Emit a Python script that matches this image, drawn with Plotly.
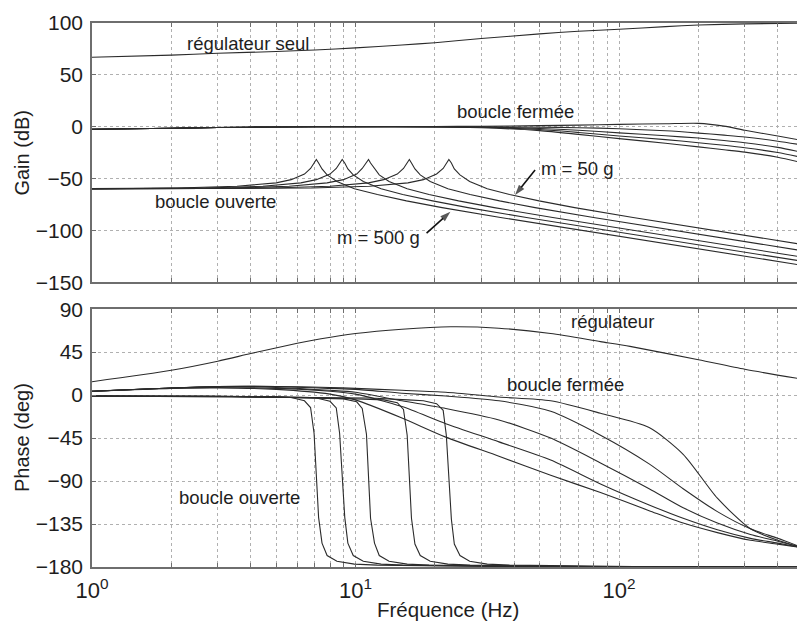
import numpy as np
import plotly.graph_objects as go

# ---------------- data ----------------
# controller alone
REG_F = [1, 2, 3, 5, 7, 10, 15, 20, 30, 50, 70, 100, 150, 200, 300, 500]
REG_GAIN = [66.9, 69.0, 70.8, 72.5, 74.0, 76.0, 78.8, 81.0, 85.0, 89.5, 92.0, 94.0, 96.5, 98.0, 99.2, 99.8]
REG_PF = [1, 2, 3, 4, 5.5, 7.4, 10, 15, 23, 35, 55, 85, 110, 200, 300, 500]
REG_PHASE = [14, 26, 35.5, 43.5, 52, 59, 64.5, 69, 71.5, 70, 64.5, 56, 51, 37, 27, 16.5]

# closed loop, five masses (50 g ... 500 g)
CL_F = [1, 2, 3, 5, 10, 20, 30, 50, 70, 100, 150, 200, 250, 300, 400, 500]
CL_GAIN_1 = [-2.5, -1.5, -0.8, -0.3, 0, 0.2, 0.4, 1.0, 1.5, 2.2, 2.8, 3.2, 0.5, -3.5, -9.0, -13.5]
CL_GAIN_2 = [-2.5, -1.5, -0.8, -0.3, 0, 0, -0.1, -0.5, -1.0, -2.0, -4.0, -6.2, -8.2, -10.0, -14.0, -17.8]
CL_GAIN_3 = [-2.5, -1.5, -0.8, -0.3, 0, -0.1, -0.3, -1.7, -3.4, -6.0, -8.8, -11.0, -13.3, -15.5, -20.0, -25.0]
CL_GAIN_4 = [-2.5, -1.5, -0.8, -0.3, 0, -0.2, -0.6, -2.8, -5.6, -9.0, -12.5, -15.5, -18.0, -20.3, -25.0, -30.0]
CL_GAIN_5 = [-2.5, -1.5, -0.8, -0.3, 0, -0.3, -1.0, -3.8, -7.4, -11.5, -16.0, -19.5, -22.3, -24.6, -29.5, -35.0]

CL_PF = [1, 2, 3, 5, 8, 10, 15, 22, 35, 55, 85, 130, 175, 236, 315, 400, 500]
CL_PHASE_1 = [4, 7.5, 9, 9, 8, 7, 5, 3, -2, -6, -19, -34, -62, -108, -140, -152, -160]
CL_PHASE_2 = [4, 7.5, 9, 9, 7, 6, 2, -1, -6, -17, -42, -72, -98, -122, -140, -150, -160]
CL_PHASE_3 = [4, 7.5, 9, 8, 5, 3, -6, -14, -26, -45, -71, -98, -118, -134, -146, -153, -160]
CL_PHASE_4 = [4, 7.5, 8, 7, 4, 1, -12, -30, -49, -68, -93, -115, -129, -141, -150, -155, -160]
CL_PHASE_5 = [4, 7, 7.5, 6, 1, -5, -24, -44, -64, -84, -102, -121, -134, -144, -152, -156, -160]

# open loop, five masses: resonance near 7.1, 8.9, 11.2, 16 and 22.6 Hz
OL_F_A = [1, 2.1, 3.55, 5.0, 5.7, 6.4, 6.75, 6.96, 7.1, 7.24, 7.46, 7.8, 8.5, 9.9, 12.1, 15.6, 21.3, 35.5, 500]
OL_F_B = [1, 2.7, 4.45, 6.2, 7.1, 8.0, 8.45, 8.7, 8.9, 9.1, 9.35, 9.8, 10.7, 12.5, 15.1, 19.6, 26.7, 44.5, 500]
OL_F_C = [1, 3.4, 5.6, 7.8, 9.0, 10.1, 10.6, 11.0, 11.2, 11.4, 11.8, 12.3, 13.4, 15.7, 19.0, 24.6, 33.6, 56, 500]
OL_F_D = [1, 4.8, 8.0, 11.2, 12.8, 14.4, 15.2, 15.7, 16, 16.3, 16.8, 17.6, 19.2, 22.4, 27.2, 35.2, 48, 80, 500]
OL_F_E = [1, 6.8, 11.3, 15.8, 18.1, 20.3, 21.5, 22.1, 22.6, 23.1, 23.7, 24.9, 27.1, 31.6, 38.4, 49.7, 67.8, 113, 500]

OL_GAIN_A = [-59.8, -59.2, -57.5, -54.2, -51.1, -45.7, -40.3, -34.7, -31.6, -35.0, -40.8, -46.5, -52.9, -59.8, -65.5, -71.6, -78.1, -87.6, -133.9]
OL_GAIN_B = [-59.9, -59.2, -57.5, -54.2, -51.1, -45.7, -40.3, -34.7, -31.6, -35.0, -40.8, -46.5, -52.9, -59.8, -65.5, -71.6, -78.1, -87.6, -130.0]
OL_GAIN_C = [-59.9, -59.2, -57.5, -54.2, -51.1, -45.7, -40.3, -34.7, -31.6, -35.0, -40.8, -46.5, -52.9, -59.8, -65.5, -71.6, -78.1, -87.6, -126.0]
OL_GAIN_D = [-60.0, -59.2, -57.5, -54.2, -51.1, -45.7, -40.3, -34.7, -31.6, -35.0, -40.8, -46.5, -52.9, -59.8, -65.5, -71.6, -78.1, -87.6, -119.8]
OL_GAIN_E = [-60.0, -59.2, -57.5, -54.2, -51.1, -45.7, -40.3, -34.7, -31.6, -35.0, -40.8, -46.5, -52.9, -59.8, -65.5, -71.6, -78.1, -87.6, -113.8]

OL_PHASE_A = [-1, -1, -1.5, -2, -2.5, -6, -13, -40, -90, -128, -155, -168, -174, -177, -178, -178.5, -179, -179.5, -180]
OL_PHASE_B = [-1, -1, -2, -2.5, -3, -6.5, -13.5, -40, -90, -128, -155, -168, -174, -177, -178, -178.5, -179, -179.5, -180]
OL_PHASE_C = [-1, -1.5, -2.5, -3, -4, -7, -14, -41, -90, -129, -155, -168, -174, -177, -178, -178.5, -179, -179.5, -180]
OL_PHASE_D = [-1, -1.5, -3, -4, -5, -8, -15, -42, -90, -129, -156, -168, -174, -177, -178, -178.5, -179, -179.5, -180]
OL_PHASE_E = [-1, -2, -3, -5, -6, -9, -16, -42, -90, -130, -156, -168, -174, -177, -178, -178.5, -179, -179.5, -180]

# pointers to the 50 g and 500 g open-loop curves: (tail, tip) in Hz / dB
ARROW_50G = ([48.0, 40.3], [-41.9, -66.0])
ARROW_500G = ([18.6, 22.9], [-102.7, -82.1])

GAIN_TICKS = [-150, -100, -50, 0, 50, 100]
PHASE_TICKS = [-180, -135, -90, -45, 0, 45, 90]
FREQ_GRID = [1, 2, 3, 4, 5, 6, 7, 8, 9, 10, 20, 30, 40, 50, 60, 70, 80, 90, 100, 200, 300, 400]
FREQ_LABELS = {1: "10<sup>0</sup>", 10: "10<sup>1</sup>", 100: "10<sup>2</sup>"}

# ---------------- figure ----------------
LINE = dict(color="#2b2b2b", width=1.1)
FONT = "Liberation Sans, Arial, sans-serif"
TXT = "#1e1e1e"

fig = go.Figure()


def add(x, y, axis, smooth=False):
    line = dict(LINE, shape="spline", smoothing=0.7) if smooth else LINE
    fig.add_trace(go.Scatter(x=x, y=y, mode="lines", line=line, hoverinfo="skip",
                             showlegend=False, xaxis="x" if axis == 1 else "x2",
                             yaxis="y" if axis == 1 else "y2"))


add(REG_F, REG_GAIN, 1, True)
for g in (CL_GAIN_1, CL_GAIN_2, CL_GAIN_3, CL_GAIN_4, CL_GAIN_5):
    add(CL_F, g, 1, True)
for f, g in ((OL_F_A, OL_GAIN_A), (OL_F_B, OL_GAIN_B), (OL_F_C, OL_GAIN_C),
             (OL_F_D, OL_GAIN_D), (OL_F_E, OL_GAIN_E)):
    add(f, g, 1)

add(REG_PF, REG_PHASE, 2, True)
for p in (CL_PHASE_1, CL_PHASE_2, CL_PHASE_3, CL_PHASE_4, CL_PHASE_5):
    add(CL_PF, p, 2, True)
for f, p in ((OL_F_A, OL_PHASE_A), (OL_F_B, OL_PHASE_B), (OL_F_C, OL_PHASE_C),
             (OL_F_D, OL_PHASE_D), (OL_F_E, OL_PHASE_E)):
    add(f, p, 2)

# arrows: a short line ending in an arrow-head marker
for xs, ys in (ARROW_50G, ARROW_500G):
    fig.add_trace(go.Scatter(
        x=xs, y=ys, mode="lines+markers", hoverinfo="skip", showlegend=False,
        line=dict(color="#111", width=1.6),
        marker=dict(symbol=["circle", "arrow"], size=[0, 11], angleref="previous",
                    color="#111", line=dict(width=0)),
        xaxis="x", yaxis="y"))

XRANGE = [0, 2.675]
xcommon = dict(type="log", range=XRANGE, tickmode="array", tickvals=FREQ_GRID,
               showgrid=True, gridcolor="#b0b0b0", griddash="dot", gridwidth=1,
               showline=True, linecolor="#6e6e6e", linewidth=1.6, mirror="ticks",
               ticks="inside", ticklen=4, tickcolor="#6e6e6e", zeroline=False,
               tickfont=dict(family=FONT, size=22, color=TXT), ticklabelstandoff=3)
ycommon = dict(showgrid=True, gridcolor="#b0b0b0", griddash="dot", gridwidth=1,
               showline=True, linecolor="#6e6e6e", linewidth=1.6,
               ticks="inside", ticklen=4, tickcolor="#6e6e6e", zeroline=False,
               tickfont=dict(family=FONT, size=21, color=TXT), ticklabelstandoff=3)

top_dom = [0.5236, 1.0]
bot_dom = [0.0, 0.474]

fig.update_layout(
    width=797, height=627,
    margin=dict(l=92, r=0, t=23, b=60),
    paper_bgcolor="white", plot_bgcolor="white",
    font=dict(family=FONT, color=TXT),
    xaxis=dict(xcommon, domain=[0, 1], anchor="y", showticklabels=False),
    yaxis=dict(ycommon, domain=top_dom, anchor="x", range=[-150, 100],
               tickvals=GAIN_TICKS),
    xaxis2=dict(xcommon, domain=[0, 1], anchor="y2",
                ticktext=[FREQ_LABELS.get(v, "") for v in FREQ_GRID]),
    yaxis2=dict(ycommon, domain=bot_dom, anchor="x2", range=[-180, 90],
                tickvals=PHASE_TICKS),
)


def label(text, f, v, axis, size=18.5):
    fig.add_annotation(x=np.log10(f), y=v, text=text, showarrow=False,
                       xanchor="center", yanchor="middle",
                       xref="x" if axis == 1 else "x2", yref="y" if axis == 1 else "y2",
                       font=dict(family=FONT, size=size, color=TXT))


label("régulateur seul", 3.91, 80.7, 1)
label("boucle fermée", 40.3, 15.1, 1)
label("boucle ouverte", 2.93, -71.8, 1)
label("m = 50 g", 69.3, -40, 1)
label("m = 500 g", 12.2, -106.6, 1)
label("régulateur", 94.1, 77.4, 2)
label("boucle fermée", 62.4, 11.4, 2)
label("boucle ouverte", 3.64, -107, 2)

# axis titles
fig.add_annotation(xref="paper", yref="paper", x=0, y=(top_dom[0] + top_dom[1]) / 2,
                   xshift=-70, xanchor="center", yanchor="middle",
                   text="Gain (dB)", textangle=-90, showarrow=False,
                   font=dict(family=FONT, size=20, color=TXT))
fig.add_annotation(xref="paper", yref="paper", x=0, y=(bot_dom[0] + bot_dom[1]) / 2,
                   xshift=-70, xanchor="center", yanchor="middle",
                   text="Phase (deg)", textangle=-90, showarrow=False,
                   font=dict(family=FONT, size=20, color=TXT))
fig.add_annotation(xref="paper", yref="paper", x=np.log10(500) / XRANGE[1] / 2, y=0,
                   yshift=-42, xanchor="center", yanchor="middle",
                   text="Fréquence (Hz)", showarrow=False,
                   font=dict(family=FONT, size=20.5, color=TXT))

fig.write_html("out.html")
